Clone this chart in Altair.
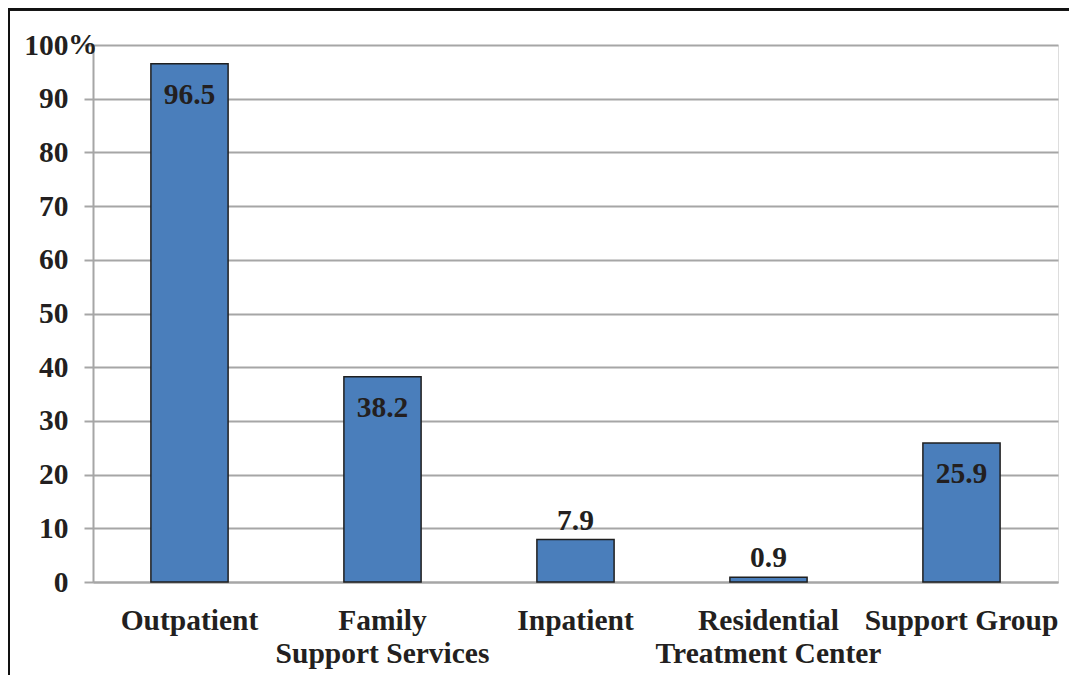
import altair as alt
import pandas as pd

categories = ["Outpatient", "Family|Support Services", "Inpatient",
              "Residential|Treatment Center", "Support Group"]
values = [96.5, 38.2, 7.9, 0.9, 25.9]
y_ticks = [0, 10, 20, 30, 40, 50, 60, 70, 80, 90, 100]
unit_label = "%"

df = pd.DataFrame({"service": categories, "pct": values})
df_unit = pd.DataFrame({"pct": [max(y_ticks)], "unit": [unit_label]})

W, H = 965, 537
FONT = "Liberation Serif"
TXT = "#231f20"
GRAY = "#a6a6a6"
FS = 29.5

x = alt.X(
    "service:N", sort=categories,
    scale=alt.Scale(paddingInner=0.6, paddingOuter=0.3),
    axis=alt.Axis(title=None, labelAngle=0, ticks=False,
                  labelExpr="split(datum.label, '|')",
                  labelFont=FONT, labelFontWeight="bold", labelFontSize=FS,
                  labelColor=TXT, labelPadding=24, labelLineHeight=33,
                  labelBaseline="top", labelLimit=0,
                  domainColor=GRAY, domainWidth=2, grid=False),
)
y = alt.Y(
    "pct:Q",
    scale=alt.Scale(domain=[0, 100], nice=False),
    axis=alt.Axis(title=None, values=y_ticks,
                  labelFont=FONT, labelFontWeight="bold", labelFontSize=FS,
                  labelColor=TXT, labelPadding=16, labelBaseline="middle",
                  labelLimit=0,
                  tickSize=9, tickWidth=2, tickColor=GRAY,
                  domainColor=GRAY, domainWidth=2,
                  grid=True, gridColor=GRAY, gridWidth=2),
)

base = alt.Chart(df)

bars = base.mark_bar(color="#4a7ebb", stroke="#1f1f1f", strokeWidth=1.5).encode(x=x, y=y)

inside = base.transform_filter("datum.pct >= 20").mark_text(
    font=FONT, fontWeight="bold", fontSize=FS, color=TXT,
    baseline="alphabetic", dy=40,
).encode(x=alt.X("service:N", sort=categories), y="pct:Q", text=alt.Text("pct:Q", format=".1f"))

outside = base.transform_filter("datum.pct < 20").mark_text(
    font=FONT, fontWeight="bold", fontSize=FS, color=TXT,
    baseline="alphabetic", dy=-10,
).encode(x=alt.X("service:N", sort=categories), y="pct:Q", text=alt.Text("pct:Q", format=".1f"))

unit = alt.Chart(df_unit).mark_text(
    font=FONT, fontWeight="bold", fontSize=FS, color=TXT,
    align="left", baseline="middle",
).encode(x=alt.value(-25), y="pct:Q", text="unit:N")

border_left = alt.Chart(df).mark_rule(color="#111111", strokeWidth=2.6).encode(
    x=alt.value(-84.3), y=alt.value(-37), y2=alt.value(H + 93))
border_top = alt.Chart(df).mark_rule(color="#111111", strokeWidth=2.6).encode(
    x=alt.value(-85.6), x2=alt.value(W + 20), y=alt.value(-35.7))

chart = alt.layer(bars, inside, outside, unit, border_left, border_top).properties(
    width=W, height=H,
    autosize=alt.AutoSizeParams(type="none"),
    padding={"left": 85, "top": 37, "right": 11, "bottom": 93},
).configure_view(stroke=None).configure(background="white")

chart.save("out.html", embed_options={"renderer": "svg", "actions": False})
